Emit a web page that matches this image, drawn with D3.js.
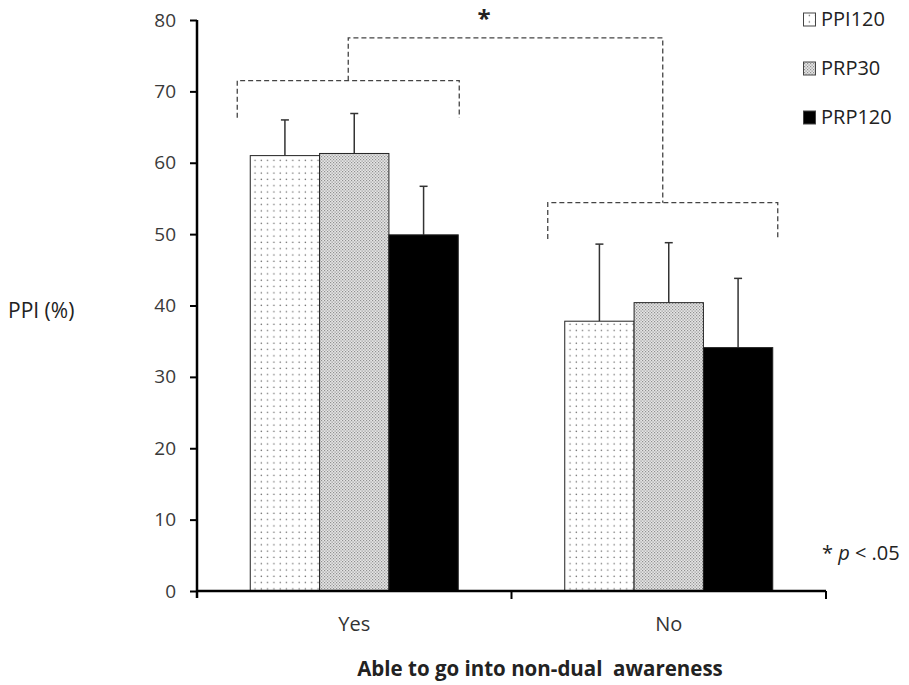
<!DOCTYPE html>
<html>
<head>
<meta charset="utf-8">
<script src="https://cdn.jsdelivr.net/npm/d3@7"></script>
<style>
  body { margin: 0; background: #fff; }
  svg { font-family: "Open Sans", "Lato", sans-serif; }
</style>
</head>
<body>
<div id="chart"></div>
<script>
// Data
const groups = ["Yes", "No"];
const seriesNames = ["PPI120", "PRP30", "PRP120"];
const means = {
    Yes: [61.0, 61.3, 49.9],
    No: [37.8, 40.4, 34.1]
};
const errTops = {
    Yes: [66.0, 66.9, 56.7],
    No: [48.6, 48.8, 43.8]
};
const yTicks = [0, 10, 20, 30, 40, 50, 60, 70, 80];

const width = 909;
const height = 685;
const margin = { top: 20, right: 83, bottom: 94, left: 197 };

const svg = d3.select("#chart")
    .append("svg")
    .attr("width", width)
    .attr("height", height);

const defs = svg.append("defs");

// sparse dots for PPI120
const p1 = defs.append("pattern")
    .attr("id", "sparse")
    .attr("patternUnits", "userSpaceOnUse")
    .attr("width", 6.3).attr("height", 6.3);
p1.append("rect").attr("width", 6.3).attr("height", 6.3).attr("fill", "#fff");
p1.append("circle").attr("cx", 3).attr("cy", 3).attr("r", 0.75).attr("fill", "#666");

// dense dots for PRP30
const p2 = defs.append("pattern")
    .attr("id", "dense")
    .attr("patternUnits", "userSpaceOnUse")
    .attr("width", 3).attr("height", 3);
p2.append("rect").attr("width", 3).attr("height", 3).attr("fill", "#e6e6e6");
p2.append("rect").attr("x", 0).attr("y", 0).attr("width", 1.2).attr("height", 1.2).attr("fill", "#909090");
p2.append("rect").attr("x", 1.5).attr("y", 1.5).attr("width", 1.2).attr("height", 1.2).attr("fill", "#909090");

const fills = ["url(#sparse)", "url(#dense)", "#000"];

const y = d3.scaleLinear()
    .domain([0, 80])
    .range([height - margin.bottom, margin.top]);

const x0 = d3.scaleBand()
    .domain(groups)
    .range([margin.left, width - margin.right]);

const x1 = d3.scaleBand()
    .domain(seriesNames)
    .range([0, 208])
    .padding(0);

const groupLeft = g => x0(g) + (x0.bandwidth() - 208) / 2;

// bars
const barData = [];
groups.forEach(g => {
    seriesNames.forEach((s, k) => {
        barData.push({ group: g, series: s, k: k, value: means[g][k], top: errTops[g][k] });
    });
});

// error bars (drawn first so bars cover their lower part)
const eb = svg.append("g").attr("stroke", "#333").attr("stroke-width", 1.5);
barData.forEach(d => {
    const cx = groupLeft(d.group) + x1(d.series) + x1.bandwidth() / 2;
    eb.append("line")
        .attr("x1", cx).attr("x2", cx)
        .attr("y1", y(d.value)).attr("y2", y(d.top));
    eb.append("line")
        .attr("x1", cx - 4).attr("x2", cx + 4)
        .attr("y1", y(d.top)).attr("y2", y(d.top));
});

svg.append("g")
    .selectAll("rect")
    .data(barData)
    .join("rect")
    .attr("x", d => groupLeft(d.group) + x1(d.series))
    .attr("y", d => y(d.value))
    .attr("width", x1.bandwidth())
    .attr("height", d => y(0) - y(d.value))
    .attr("fill", d => fills[d.k])
    .attr("stroke", "#222")
    .attr("stroke-width", 1);

// y axis
const yAxis = svg.append("g")
    .attr("transform", `translate(${margin.left},0)`)
    .call(d3.axisLeft(y).tickValues(yTicks).tickSize(7).tickPadding(14));
yAxis.select(".domain").attr("stroke", "#000").attr("stroke-width", 2.5)
    .attr("d", `M0,${y(80)}V${y(0) + 7}`);
yAxis.selectAll(".tick line").attr("stroke", "#000").attr("stroke-width", 2);
yAxis.selectAll(".tick text").attr("font-size", 19).attr("fill", "#3a3a3a")
    .attr("font-family", "Open Sans");

// x axis
const xAxis = svg.append("g")
    .attr("transform", `translate(0,${y(0)})`);
xAxis.append("line")
    .attr("x1", margin.left).attr("x2", width - margin.right)
    .attr("stroke", "#000").attr("stroke-width", 2.5);
const bounds = [margin.left, x0("No"), width - margin.right];
xAxis.selectAll(".xt")
    .data(bounds.slice(1))
    .join("line")
    .attr("x1", d => d).attr("x2", d => d)
    .attr("y1", 0).attr("y2", 8)
    .attr("stroke", "#000").attr("stroke-width", 2);
xAxis.selectAll("text")
    .data(groups)
    .join("text")
    .attr("x", d => x0(d) + x0.bandwidth() / 2)
    .attr("y", 40)
    .attr("text-anchor", "middle")
    .attr("font-size", 20)
    .attr("fill", "#333")
    .text(d => d);

// axis titles
svg.append("text")
    .attr("x", 8).attr("y", 318)
    .attr("font-size", 21).attr("fill", "#222")
    .text("PPI (%)");

svg.append("text")
    .attr("x", 540).attr("y", 676)
    .attr("text-anchor", "middle")
    .attr("font-size", 20.5).attr("font-weight", "bold").attr("fill", "#222")
    .text("Able to go into non-dual\u00a0 awareness");

// significance brackets (in data units)
const brk = svg.append("g")
    .attr("fill", "none")
    .attr("stroke", "#444")
    .attr("stroke-width", 1.3)
    .attr("stroke-dasharray", "5,3");

const yesL = groupLeft("Yes") - 13, yesR = groupLeft("Yes") + 208 + 1;
const noL = groupLeft("No") - 17, noR = groupLeft("No") + 208 + 5;
const yesMid = (yesL + yesR) / 2;
const noMid = (noL + noR) / 2;

brk.append("path").attr("d",
    `M${yesL},${y(66.3)}V${y(71.5)}H${yesR}V${y(66.3)}`);
brk.append("path").attr("d",
    `M${noL},${y(49.3)}V${y(54.4)}H${noR}V${y(49.3)}`);
brk.append("path").attr("d",
    `M${yesMid},${y(71.5)}V${y(77.5)}H${noMid}V${y(54.4)}`);

svg.append("text")
    .attr("x", 484).attr("y", 27)
    .attr("text-anchor", "middle")
    .attr("font-size", 24).attr("font-weight", "bold").attr("fill", "#222")
    .text("*");

// legend
const legend = svg.append("g");
seriesNames.forEach((s, k) => {
    const base = 26 + k * 49;
    legend.append("rect")
        .attr("x", 803.5).attr("y", base - 13)
        .attr("width", 12).attr("height", 13)
        .attr("fill", fills[k])
        .attr("stroke", "#444").attr("stroke-width", 1);
    legend.append("text")
        .attr("x", 821).attr("y", base)
        .attr("font-size", 20).attr("fill", "#222")
        .text(s);
});

// p note
const note = svg.append("text")
    .attr("x", 822).attr("y", 560)
    .attr("font-size", 20).attr("fill", "#222");
note.append("tspan").text("* ");
note.append("tspan").attr("font-style", "italic").text("p");
note.append("tspan").text(" < .05");
</script>
</body>
</html>
